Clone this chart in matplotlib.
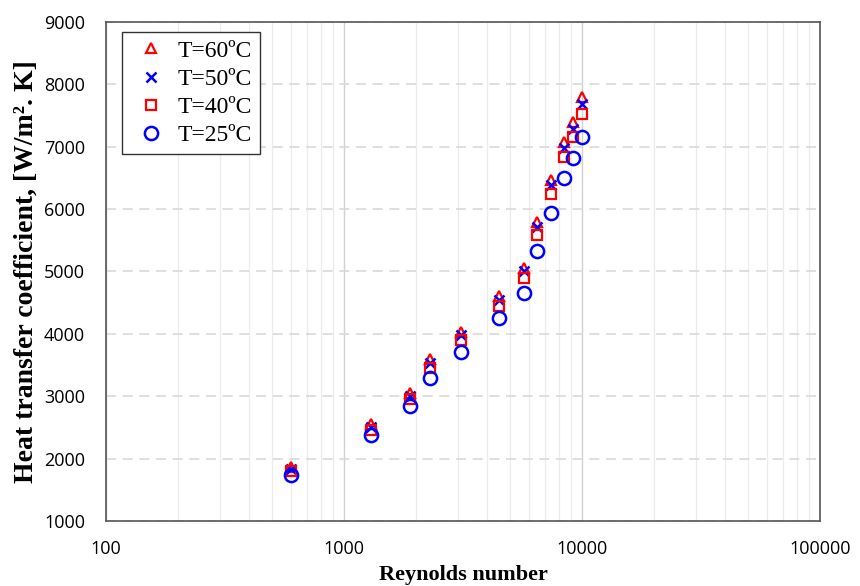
import matplotlib.pyplot as plt
from matplotlib.ticker import FixedLocator, NullFormatter
import numpy as np

# Reynolds numbers
reynolds = [600, 1300, 1900, 2300, 3100, 4500, 5700, 6500, 7400, 8400, 9200, 10000]

# Heat transfer coefficient at each temperature [W/m2.K]
h_60 = [1860, 2560, 3060, 3590, 4030, 4610, 5060, 5790, 6470, 7070, 7390, 7800]
h_50 = [1830, 2510, 3000, 3530, 3980, 4540, 5000, 5710, 6390, 6980, 7290, 7680]
h_40 = [1800, 2460, 2950, 3450, 3900, 4440, 4900, 5590, 6250, 6840, 7160, 7520]
h_25 = [1730, 2380, 2840, 3290, 3710, 4250, 4660, 5330, 5940, 6500, 6820, 7160]

fig = plt.figure(figsize=(8.6, 5.86), dpi=100)
ax = fig.add_axes([0.1233, 0.1109, 0.8302, 0.8516])

ax.plot(reynolds, h_60, linestyle='none', marker='^', markersize=7, markerfacecolor='none',
        markeredgecolor='red', markeredgewidth=1.6, label='T=60ºC')
ax.plot(reynolds, h_50, linestyle='none', marker='x', markersize=7, color='blue',
        markeredgewidth=1.8, label='T=50ºC')
ax.plot(reynolds, h_40, linestyle='none', marker='s', markersize=7.5, markerfacecolor='none',
        markeredgecolor='red', markeredgewidth=1.6, label='T=40ºC')
ax.plot(reynolds, h_25, linestyle='none', marker='o', markersize=9.5, markerfacecolor='none',
        markeredgecolor='blue', markeredgewidth=1.8, label='T=25ºC')

ax.set_xscale('log')
ax.set_xlim(100, 100000)
ax.set_ylim(1000, 9000)
ax.set_yticks(np.arange(1000, 9001, 1000))
ax.xaxis.set_major_locator(FixedLocator([100, 1000, 10000, 100000]))
ax.set_xticklabels(['100', '1000', '10000', '100000'])
ax.xaxis.set_minor_formatter(NullFormatter())

# Grid: dashed horizontal, light vertical
ax.grid(axis='y', which='major', linestyle=(0, (6, 4)), color='#d9d9d9', linewidth=1.2)
ax.grid(axis='x', which='major', linestyle='-', color='#d0d0d0', linewidth=1.0)
ax.grid(axis='x', which='minor', linestyle='-', color='#ececec', linewidth=0.9)
ax.set_axisbelow(True)

ax.tick_params(which='both', length=0, labelsize=13)
for lbl in ax.get_xticklabels() + ax.get_yticklabels():
    lbl.set_family('Open Sans')
ax.tick_params(axis='y', pad=15)
ax.tick_params(axis='x', pad=14)

for s in ax.spines.values():
    s.set_color('#555555')
    s.set_linewidth(1.2)

ax.set_xlabel('Reynolds number', family='Liberation Serif', fontweight='bold', fontsize=16, labelpad=5)
ax.set_ylabel('Heat transfer coefficient, [W/m². K]', family='Liberation Serif',
              fontweight='bold', fontsize=20, labelpad=4)

leg = ax.legend(loc='upper left', bbox_to_anchor=(0.022, 0.98), borderaxespad=0,
                prop={'family': 'Liberation Serif', 'size': 17},
                fancybox=False, edgecolor='#333333', framealpha=1, handletextpad=0.2,
                labelspacing=0.28, borderpad=0.35, handlelength=1.8)
leg.get_frame().set_linewidth(1.0)

plt.savefig('out.png', dpi=100)
